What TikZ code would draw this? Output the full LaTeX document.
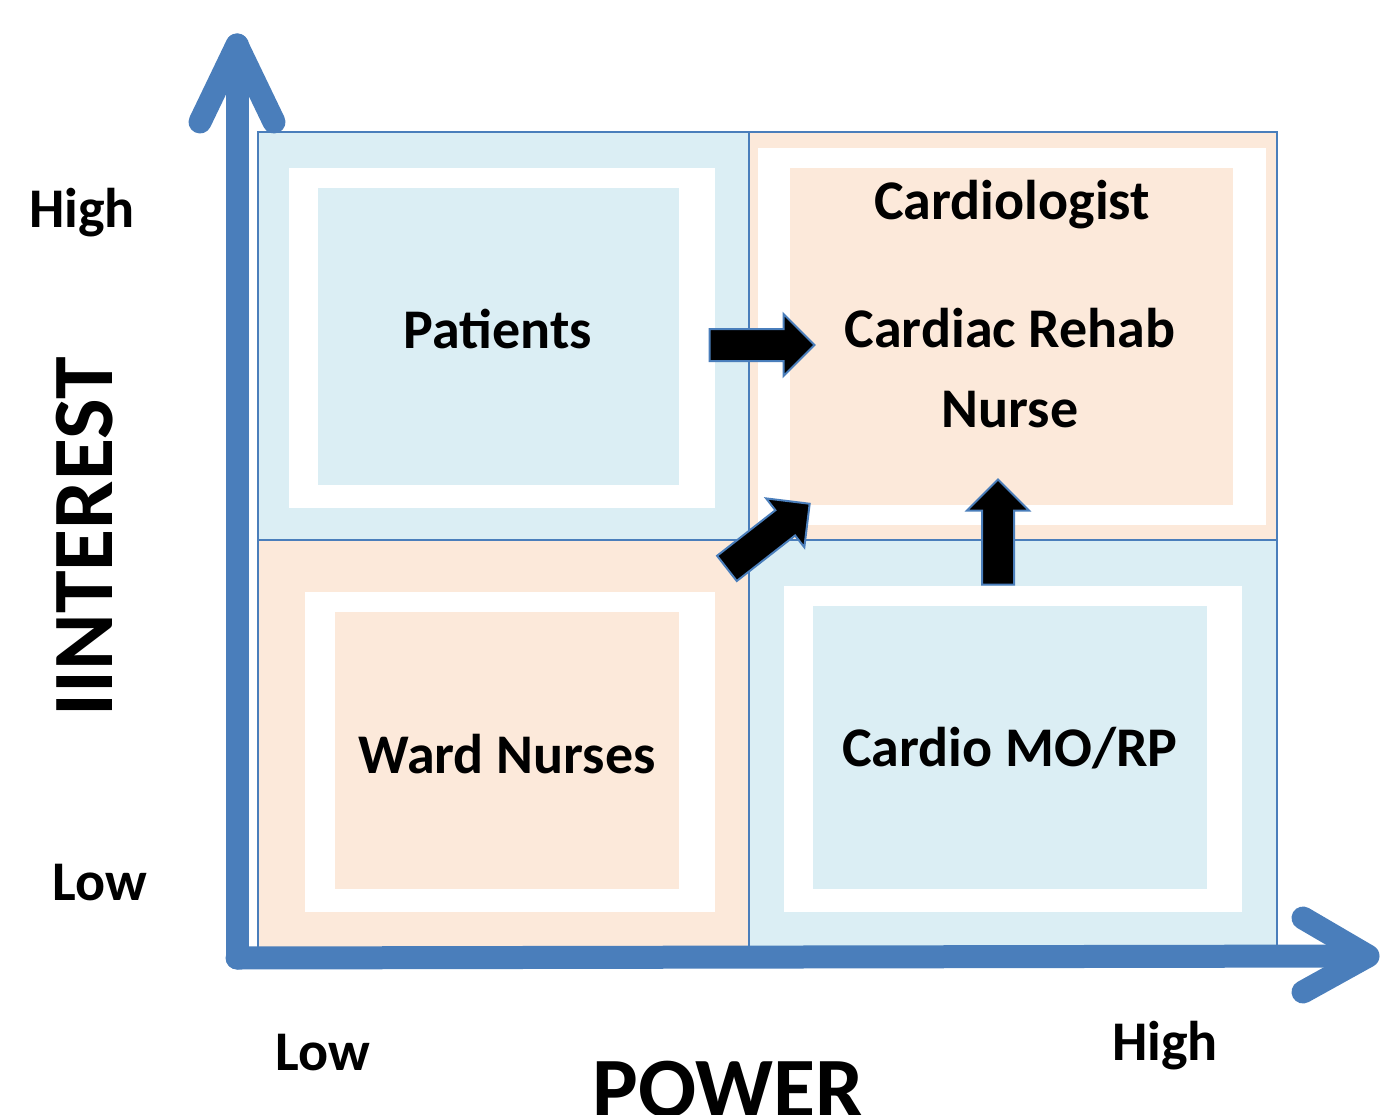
\documentclass[tikz,border=0pt]{standalone}
\usepackage{fontspec}
\setmainfont{Carlito}
\usetikzlibrary{shapes.arrows}

\definecolor{axisblue}{RGB}{74,126,187}
\definecolor{lowblue}{RGB}{219,238,244}
\definecolor{lowpeach}{RGB}{252,233,218}

\tikzset{
  quad/.style={draw=axisblue,line width=2.5pt},
  axis/.style={axisblue,line width=23pt,line cap=round,line join=round},
  lbl/.style={font=\fontsize{56}{60}\selectfont\bfseries,anchor=base,inner sep=0pt},
  biglbl/.style={font=\fontsize{86}{90}\selectfont\bfseries,anchor=base,inner sep=0pt},
  blockarrow/.style={single arrow,fill=black,draw=axisblue,line width=2pt,
    inner sep=15pt,single arrow head extend=15pt,minimum height=105pt,
    single arrow tip angle=90}
}

\begin{document}
\begin{tikzpicture}[x=1pt,y=-1pt]
\useasboundingbox (0,0) rectangle (1381,1115);

% quadrants
\fill[lowblue]  (258,132) rectangle (749,540);
\fill[lowpeach] (749,132) rectangle (1277,540);
\fill[lowpeach] (258,540) rectangle (749,948);
\fill[lowblue]  (749,540) rectangle (1277,948);

\fill[white]    (289,168) rectangle (715,508);
\fill[lowblue]  (318,188) rectangle (679,485);
\fill[white]    (758,148) rectangle (1266,525);
\fill[lowpeach] (790,168) rectangle (1233,505);
\fill[white]    (305,592) rectangle (715,912);
\fill[lowpeach] (335,612) rectangle (679,889);
\fill[white]    (784,586) rectangle (1242,912);
\fill[lowblue]  (813,606) rectangle (1207,889);

\draw[quad] (258,132) rectangle (1277,948);
\draw[quad] (749,132) -- (749,948);
\draw[quad] (258,540) -- (1277,540);

% axes
\coordinate (origin) at (237,958);
\coordinate (ytip) at (237,45);
\coordinate (xtip) at (1368,956);
\draw[axis] (origin) -- (ytip);
\draw[axis] (200,122) -- (ytip) -- (274,122);
\draw[axis] (origin) -- (1360,956);
\draw[axis] (1303,918) -- (xtip) -- (1303,992);

% labels
\node[lbl] (yhigh) at (82,228) {High};
\node[lbl] (ylow) at (100,900) {Low};
\node[lbl] (xlow) at (323,1070) {Low};
\node[lbl] (xhigh) at (1165,1060) {High};
\node[biglbl,rotate=90] (interest) at (112,537) {IINTEREST};
\node[biglbl] (power) at (728,1117) {POWER};

\node[lbl] (patients) at (498,348) {Patients};
\node[lbl] (cardiologist) at (1012,220) {Cardiologist};
\node[lbl] (rehab) at (1010,347) {Cardiac Rehab};
\node[lbl] (nurse) at (1010,427) {Nurse};
\node[lbl] (ward) at (507,773) {Ward Nurses};
\node[lbl] (mo) at (1010,766) {Cardio MO/RP};

% block arrows
\node[blockarrow] (toright) at (754,345) {};
\node[blockarrow,rotate=38] (todiag) at (762,541) {};
\node[blockarrow,rotate=90] (toup) at (998,540) {};

\end{tikzpicture}
\end{document}
